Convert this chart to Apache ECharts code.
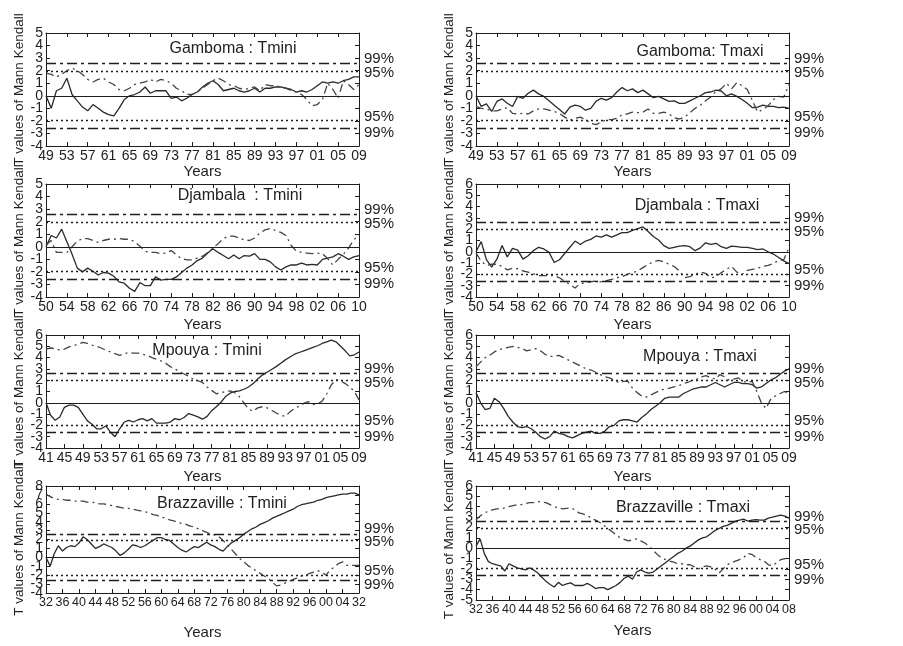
<!DOCTYPE html>
<html>
<head>
<meta charset="utf-8">
<title>Mann Kendall</title>
<script src="https://cdn.jsdelivr.net/npm/echarts@6.0.0/dist/echarts.min.js"></script>
<style>
  html, body { margin: 0; padding: 0; background: #fff; }
  #main { width: 903px; height: 646px; }
</style>
</head>
<body>
<div id="main"></div>
<script>
// tick labels (two-digit years, one every 4 years)
var gamTicks = ['49','53','57','61','65','69','73','77','81','85','89','93','97','01','05','09'];
var djTicks = ['50','54','58','62','66','70','74','78','82','86','90','94','98','02','06','10'];
var mpTicks = ['41','45','49','53','57','61','65','69','73','77','81','85','89','93','97','01','05','09'];
var brTminTicks = ['32','36','40','44','48','52','56','60','64','68','72','76','80','84','88','92','96','00','04','32'];
var brTmaxTicks = ['32','36','40','44','48','52','56','60','64','68','72','76','80','84','88','92','96','00','04','08'];

// significance levels
var REF95 = 1.96;
var REF99 = 2.58;

// Gamboma 1949-2009 : u(t) forward (solid) and u'(t) backward (dash-dot)
var gamTminUF = [0.0,-1.0,0.4,0.6,1.4,0.1,-0.4,-0.9,-1.2,-0.7, -1.0,-1.3,-1.5,-1.6,-1.0,-0.3,0.0,0.1,0.3,0.7,
  0.2,0.4,0.4,0.4,-0.2,-0.1,-0.4,-0.2,0.1,0.3, 0.7,1.0,1.2,0.9,0.4,0.5,0.6,0.4,0.3,0.4,
  0.6,0.3,0.6,0.6,0.7,0.7,0.6,0.5,0.3,0.4, 0.3,0.5,0.8,1.1,1.0,1.1,1.0,1.2,1.3,1.5, 1.5];
var gamTminUB = [1.8,1.7,1.5,1.7,2.0,2.2,2.0,1.7,1.3,1.1, 1.3,1.4,1.1,0.9,0.5,0.4,0.6,0.9,1.0,1.1,
  1.3,1.1,1.3,1.2,1.0,0.6,0.4,0.1,0.1,0.3, 0.6,0.9,1.2,1.4,1.2,0.9,0.8,0.6,0.5,0.6,
  0.7,0.4,0.9,0.8,0.8,0.7,0.6,0.4,0.3,0.1, -0.3,-0.8,-0.7,-0.3,1.0,0.5,-0.2,1.2,0.9,0.5, 0.9];
var gamTmaxUF = [0.0,-0.85,-0.65,-1.25,-0.45,-0.25,-0.6,-0.85,-0.05,-0.2, 0.2,0.45,0.15,-0.05,-0.4,-0.75,-1.1,-1.45,-0.9,-0.75,
  -0.85,-1.15,-1.0,-0.45,-0.2,-0.35,-0.15,0.3,0.65,0.4, 0.55,0.25,0.45,0.15,-0.15,-0.05,-0.25,-0.45,-0.4,-0.6,
  -0.6,-0.4,-0.2,0.0,0.25,0.3,0.45,0.38,0.0,0.15, -0.05,-0.3,-0.6,-0.95,-0.9,-0.75,-0.85,-0.85,-0.95,-0.9, -1.0];
var gamTmaxUB = [-0.85,-1.0,-1.05,-1.2,-1.2,-1.05,-0.95,-1.4,-1.45,-1.4, -1.45,-1.2,-1.05,-1.05,-1.15,-1.25,-1.4,-1.7,-1.95,-1.8,
  -1.7,-1.9,-2.2,-2.3,-2.1,-1.9,-1.9,-1.8,-1.5,-1.45, -1.3,-1.35,-1.3,-1.05,-1.4,-1.4,-1.3,-1.45,-1.75,-1.85,
  -1.7,-1.35,-1.0,-0.75,-0.4,-0.1,0.35,0.55,1.0,0.55, 1.05,0.8,0.5,-0.4,-1.3,-1.1,-0.8,-0.3,-0.05,-0.1, 0.9];

// Djambala 1950-2010
var djTminUF = [0.0,0.9,0.7,1.4,0.4,-0.6,-1.7,-2.0,-1.7,-1.95, -2.25,-2.05,-2.1,-2.35,-2.8,-2.9,-3.3,-3.55,-2.85,-3.1,
  -3.1,-2.4,-2.65,-2.6,-2.6,-2.4,-2.05,-1.7,-1.45,-1.1, -0.9,-0.5,-0.15,-0.45,-0.7,-0.95,-0.65,-0.95,-0.7,-0.75,
  -0.55,-1.0,-1.0,-1.2,-1.6,-1.85,-1.6,-1.45,-1.45,-1.3, -1.45,-1.4,-1.45,-1.0,-0.9,-0.8,-0.55,-0.75,-1.0,-0.8, -0.7];
var djTminUB = [0.15,0.5,-0.45,-0.45,-0.45,0.0,0.45,0.65,0.65,0.5, 0.35,0.5,0.6,0.6,0.65,0.6,0.6,0.4,0.05,-0.35,
  -0.45,-0.45,-0.55,-0.5,-0.3,-0.65,-0.95,-1.05,-1.05,-0.9, -0.75,-0.45,-0.1,0.25,0.65,0.85,0.85,0.7,0.55,0.5,
  0.7,1.1,1.35,1.45,1.3,1.15,0.9,0.1,-0.35,-0.45, -0.5,-0.55,-0.5,-0.55,-0.95,-1.45,-1.0,-0.6,-0.1,0.55, 0.95];
var djTmaxUF = [0.0,0.9,-0.7,-1.35,-0.65,0.55,-0.45,0.3,0.15,-0.65, -0.35,0.1,0.4,0.25,-0.05,-0.95,-0.7,-0.15,0.4,0.95,
  0.65,0.95,1.1,1.4,1.3,1.5,1.3,1.5,1.7,1.7, 1.9,2.05,2.2,1.8,1.35,1.05,0.55,0.3,0.4,0.5,
  0.55,0.45,0.1,0.35,0.8,0.65,0.75,0.45,0.3,0.5, 0.45,0.4,0.4,0.3,0.2,0.25,0.0,-0.2,-0.5,-0.8, -1.05];
var djTmaxUB = [-0.1,-0.85,-1.2,-1.1,-1.1,-1.3,-1.6,-1.45,-1.5,-1.7, -1.8,-1.95,-2.1,-2.1,-2.1,-2.1,-2.3,-2.6,-2.9,-3.2,
  -2.8,-2.75,-2.65,-2.6,-2.65,-2.55,-2.45,-2.3,-2.2,-2.0, -1.85,-1.7,-1.4,-1.1,-0.9,-0.75,-0.9,-1.1,-1.3,-1.7,
  -2.3,-2.2,-2.0,-1.8,-1.9,-2.3,-2.2,-1.85,-1.55,-1.3, -1.8,-2.0,-1.65,-1.55,-1.45,-1.3,-1.2,-1.05,-0.75,-0.7, 0.4];

// Mpouya 1941-2009
var mpTminUF = [0.0,-1.1,-1.55,-1.25,-0.4,-0.2,-0.2,-0.4,-1.0,-1.6, -1.9,-2.3,-2.3,-2.05,-2.6,-3.0,-2.3,-1.7,-1.55,-1.7,
  -1.5,-1.4,-1.6,-1.4,-1.8,-1.8,-1.8,-1.7,-1.4,-1.5, -1.3,-0.95,-1.1,-1.25,-1.45,-1.2,-0.7,-0.35,0.05,0.55,
  0.85,1.0,1.05,1.2,1.4,1.7,2.1,2.45,2.7,2.95, 3.2,3.5,3.8,4.05,4.3,4.45,4.6,4.75,4.9,5.05,
  5.25,5.4,5.55,5.4,5.0,4.6,4.15,4.25,4.5];
var mpTminUB = [4.75,4.85,4.8,4.65,4.75,4.95,5.05,5.2,5.35,5.25, 5.1,5.0,4.85,4.65,4.5,4.35,4.2,4.35,4.45,4.4,
  4.4,4.3,4.2,4.0,3.85,3.7,3.5,3.2,3.0,2.75, 2.55,2.35,2.1,1.95,1.8,1.4,1.1,0.8,0.9,1.0,
  1.05,0.9,0.55,0.0,-0.55,-0.75,-0.45,-0.35,-0.45,-0.65, -0.9,-1.1,-1.2,-0.8,-0.5,-0.3,-0.05,0.1,-0.15,-0.1,
  0.15,0.8,1.6,2.05,1.95,1.7,1.4,1.0,0.25];
var mpTmaxUF = [0.9,0.0,-0.6,-0.5,0.4,0.1,-0.5,-1.2,-1.7,-2.1, -2.2,-2.1,-2.3,-2.6,-3.0,-3.2,-3.0,-2.5,-2.7,-2.8,
  -3.0,-3.1,-2.9,-2.7,-2.6,-2.5,-2.7,-2.7,-2.5,-2.1, -2.0,-1.6,-1.5,-1.5,-1.6,-1.7,-1.3,-1.0,-0.6,-0.3,
  0.0,0.4,0.5,0.5,0.5,0.8,1.0,1.2,1.3,1.4, 1.4,1.6,1.8,1.6,1.4,1.6,1.8,1.8,1.7,1.7,
  1.6,1.3,1.4,1.7,2.0,2.2,2.5,2.8,3.0];
var mpTmaxUB = [3.2,3.6,4.0,4.2,4.5,4.7,4.8,4.9,5.0,4.9, 4.8,4.6,4.7,4.8,4.6,4.3,4.1,4.1,4.2,4.0,
  3.8,3.6,3.4,3.2,3.0,2.9,2.7,2.5,2.3,2.2, 2.0,1.8,1.9,1.9,1.3,0.9,0.6,0.5,0.7,0.9,
  1.1,1.2,1.3,1.4,1.5,1.7,1.8,2.0,2.1,2.3, 2.4,2.2,2.1,2.5,2.3,2.0,2.1,2.2,1.9,1.8,
  1.9,1.0,0.0,-0.5,0.3,0.6,0.8,1.0,0.8];

// Brazzaville 1932-2008
var brTminUF = [0.0,-1.0,0.4,1.3,0.7,1.1,1.3,1.2,1.6,2.3, 2.0,1.5,1.0,1.2,1.5,1.3,1.1,0.7,0.2,0.5,
  0.9,1.4,1.3,1.1,1.3,1.6,1.9,2.2,2.2,2.0, 1.9,1.5,1.1,0.8,0.6,0.9,1.2,1.1,1.4,1.7,
  1.4,1.2,0.9,0.7,1.2,1.6,1.9,2.2,2.6,2.9, 3.2,3.4,3.7,3.9,4.1,4.4,4.6,4.8,5.0,5.2,
  5.4,5.7,5.9,6.0,6.1,6.2,6.4,6.5,6.7,6.8, 6.9,7.0,7.1,7.1,7.2,7.2,7.0];
var brTminUB = [7.1,6.8,6.6,6.5,6.5,6.4,6.4,6.3,6.3,6.3, 6.2,6.2,6.1,6.0,6.0,5.9,5.8,5.7,5.6,5.5,
  5.5,5.4,5.3,5.2,5.1,5.0,4.8,4.7,4.5,4.4, 4.2,4.1,3.9,3.8,3.7,3.5,3.4,3.2,3.0,2.8,
  2.6,2.5,2.3,1.9,1.4,0.9,0.4,-0.1,-0.5,-0.9, -1.2,-1.5,-1.8,-2.1,-2.4,-2.8,-3.2,-3.1,-2.9,-2.7,
  -2.5,-2.3,-2.1,-2.0,-1.8,-1.65,-1.5,-1.7,-2.0,-1.4, -1.1,-0.7,-0.5,-0.9,-0.9,-0.9,-0.9];
var brTmaxUF = [0.2,0.9,-0.5,-1.3,-1.5,-1.6,-1.7,-2.2,-1.5,-1.7, -1.9,-2.0,-2.1,-1.9,-2.1,-2.4,-2.8,-3.2,-3.5,-3.75,
  -3.3,-3.6,-3.45,-3.35,-3.6,-3.6,-3.6,-3.4,-3.6,-3.9, -3.8,-3.8,-4.0,-3.8,-3.6,-3.3,-2.9,-2.7,-3.0,-2.3,
  -2.1,-2.3,-2.4,-2.3,-2.0,-1.7,-1.4,-1.1,-0.8,-0.5, -0.3,0.0,0.2,0.5,0.8,1.0,1.1,1.4,1.7,1.9,
  2.1,2.2,2.4,2.6,2.7,2.8,2.6,2.7,2.75,2.7, 2.7,2.9,3.0,3.1,3.2,3.1,2.9];
var brTmaxUB = [2.75,3.1,3.4,3.55,3.7,3.8,3.8,3.9,4.0,4.1, 4.2,4.2,4.3,4.4,4.4,4.5,4.45,4.4,4.2,4.0,
  3.9,3.8,3.85,3.9,3.7,3.4,3.3,3.15,2.9,2.7, 2.5,2.2,1.9,1.6,1.3,1.0,0.85,0.7,0.8,0.9,
  0.7,0.5,0.2,-0.2,-0.6,-0.9,-1.1,-1.25,-1.35,-1.5, -1.5,-1.6,-1.6,-1.8,-2.0,-1.8,-1.7,-1.8,-2.0,-2.4,
  -2.0,-1.6,-1.4,-1.25,-1.1,-0.9,-0.5,-0.6,-0.9,-1.1, -1.25,-1.6,-1.7,-1.4,-1.1,-1.0,-0.95];

var FONT = '"Liberation Sans", Arial, Helvetica, sans-serif';
var INK = '#1e1e1e';

// panel layout (pixel boxes of the plot frames)
var panels = [
  {name: 'Gamboma : Tmini',     uf: gamTminUF, ub: gamTminUB, ticks: gamTicks,    yMin: -4, yMax: 5, left: 46,  top: 33,  height: 113, tx: 233, ty: 49,  yearsGap: 18, xFont: 14},
  {name: 'Gamboma: Tmaxi',      uf: gamTmaxUF, ub: gamTmaxUB, ticks: gamTicks,    yMin: -4, yMax: 5, left: 476, top: 33,  height: 113, tx: 700, ty: 52,  yearsGap: 18, xFont: 14},
  {name: 'Djambala  : Tmini',   uf: djTminUF,  ub: djTminUB,  ticks: djTicks,     yMin: -4, yMax: 5, left: 46,  top: 184, height: 113, tx: 240, ty: 196, yearsGap: 20, xFont: 14},
  {name: 'Djambala : Tmaxi',    uf: djTmaxUF,  ub: djTmaxUB,  ticks: djTicks,     yMin: -4, yMax: 6, left: 476, top: 184, height: 113, tx: 697, ty: 206, yearsGap: 20, xFont: 14},
  {name: 'Mpouya : Tmini',      uf: mpTminUF,  ub: mpTminUB,  ticks: mpTicks,     yMin: -4, yMax: 6, left: 46,  top: 335, height: 113, tx: 207, ty: 351, yearsGap: 21, xFont: 14},
  {name: 'Mpouya : Tmaxi',      uf: mpTmaxUF,  ub: mpTmaxUB,  ticks: mpTicks,     yMin: -4, yMax: 6, left: 476, top: 335, height: 113, tx: 700, ty: 357, yearsGap: 21, xFont: 14},
  {name: 'Brazzaville : Tmini', uf: brTminUF,  ub: brTminUB,  ticks: brTminTicks, yMin: -4, yMax: 8, left: 46,  top: 486, height: 107, tx: 222, ty: 504, yearsGap: 32, xFont: 12.5},
  {name: 'Brazzaville : Tmaxi', uf: brTmaxUF,  ub: brTmaxUB,  ticks: brTmaxTicks, yMin: -5, yMax: 6, left: 476, top: 486, height: 114, tx: 683, ty: 508, yearsGap: 23, xFont: 12.5}
];

// labels on the right of the significance lines
var sigLabels = [
  {v: REF99,  text: '99%', dy: -5},
  {v: REF95,  text: '95%', dy: 2},
  {v: -REF95, text: '95%', dy: -4},
  {v: -REF99, text: '99%', dy: 5}
];

var chart = echarts.init(document.getElementById('main'));

var grids = [], xAxes = [], yAxes = [], series = [];
var axisLine = {show: true, onZero: false, lineStyle: {color: INK, width: 1}};
var tickIn = {show: true, inside: true, length: 4, lineStyle: {color: INK, width: 1}};

function evenOnly(v) { return Math.round(v) % 2 === 0 ? String(Math.round(v)) : ''; }
function oddOnly(v) { return Math.round(v) % 2 !== 0 ? String(Math.round(v)) : ''; }

panels.forEach(function (p, i) {
  var span = (p.ticks.length - 1) * 4;
  grids.push({left: p.left, top: p.top, width: 313, height: p.height, containLabel: false, outerBoundsMode: 'none'});

  xAxes.push({
    type: 'value', gridIndex: i, position: 'bottom', min: 0, max: span, interval: 4,
    axisLine: axisLine, axisTick: tickIn, splitLine: {show: false},
    axisLabel: {
      color: INK, fontSize: p.xFont, fontFamily: FONT, margin: 3, hideOverlap: false,
      showMinLabel: true, showMaxLabel: true,
      formatter: (function (t) { return function (v) { return t[Math.round(v / 4)] || ''; }; })(p.ticks)
    },
    name: 'Years', nameLocation: 'middle', nameGap: p.yearsGap, nameMoveOverlap: false,
    nameTextStyle: {color: INK, fontSize: 15, fontFamily: FONT}
  });
  xAxes.push({
    type: 'value', gridIndex: i, position: 'top', min: 0, max: span, interval: 4,
    axisLine: axisLine, axisTick: tickIn, axisLabel: {show: false}, splitLine: {show: false}
  });

  // left axis: frame, ticks, even labels and the axis title
  yAxes.push({
    type: 'value', gridIndex: i, position: 'left', offset: 0, min: p.yMin, max: p.yMax, interval: 1,
    axisLine: axisLine, axisTick: tickIn, splitLine: {show: false},
    axisLabel: {color: INK, fontSize: 14, fontFamily: FONT, margin: 3, hideOverlap: false,
      showMinLabel: true, showMaxLabel: true, formatter: evenOnly},
    name: 'T values of Mann Kendall', nameLocation: 'middle', nameGap: 20, nameRotate: 90, nameMoveOverlap: false,
    nameTextStyle: {color: INK, fontSize: 13.5, fontFamily: FONT}
  });
  // second left axis at the same place: odd labels (kept apart so none is dropped)
  yAxes.push({
    type: 'value', gridIndex: i, position: 'left', offset: 0, min: p.yMin, max: p.yMax, interval: 1,
    axisLine: {show: false, onZero: false}, axisTick: {show: false}, splitLine: {show: false},
    axisLabel: {color: INK, fontSize: 14, fontFamily: FONT, margin: 3, hideOverlap: false,
      showMinLabel: true, showMaxLabel: true, formatter: oddOnly}
  });
  yAxes.push({
    type: 'value', gridIndex: i, position: 'right', min: p.yMin, max: p.yMax, interval: 1,
    axisLine: axisLine, axisTick: tickIn, axisLabel: {show: false}, splitLine: {show: false}
  });

  series.push({
    type: 'line', xAxisIndex: 2 * i, yAxisIndex: 3 * i, symbol: 'none', silent: true,
    lineStyle: {color: '#2a2a2a', width: 1.3, type: 'solid'},
    data: p.uf.map(function (v, k) { return [k, v]; }),
    markLine: {
      silent: true, symbol: ['none', 'none'], label: {show: false}, animation: false,
      lineStyle: {color: INK, width: 1.3},
      data: [
        {yAxis: 0, lineStyle: {type: 'solid', width: 1.2}},
        {yAxis: REF95, lineStyle: {type: [2, 3]}},
        {yAxis: -REF95, lineStyle: {type: [2, 3]}},
        {yAxis: REF99, lineStyle: {type: [10, 4, 3, 4]}},
        {yAxis: -REF99, lineStyle: {type: [10, 4, 3, 4]}}
      ]
    }
  });
  series.push({
    type: 'line', xAxisIndex: 2 * i, yAxisIndex: 3 * i, symbol: 'none', silent: true,
    lineStyle: {color: '#444', width: 1.3, type: [8, 4, 2, 4]},
    data: p.ub.map(function (v, k) { return [k, v]; })
  });
});

chart.setOption({
  animation: false,
  backgroundColor: '#fff',
  grid: grids,
  xAxis: xAxes,
  yAxis: yAxes,
  series: series
});

// panel titles and significance labels, placed through the axes' scales
var graphics = [];
panels.forEach(function (p, i) {
  graphics.push({
    type: 'text', x: p.tx, y: p.ty, silent: true,
    style: {text: p.name, font: '16px ' + FONT, fill: INK,
      textAlign: 'center', align: 'center', textVerticalAlign: 'middle', verticalAlign: 'middle'}
  });
  var xEnd = (p.ticks.length - 1) * 4;
  sigLabels.forEach(function (s) {
    var pt = chart.convertToPixel({seriesIndex: 2 * i}, [xEnd, s.v]);
    graphics.push({
      type: 'text', x: pt[0] + 5, y: pt[1] + s.dy, silent: true,
      style: {text: s.text, font: '15px ' + FONT, fill: INK,
        textAlign: 'left', align: 'left', textVerticalAlign: 'middle', verticalAlign: 'middle'}
    });
  });
});
chart.setOption({graphic: graphics});
</script>
</body>
</html>
